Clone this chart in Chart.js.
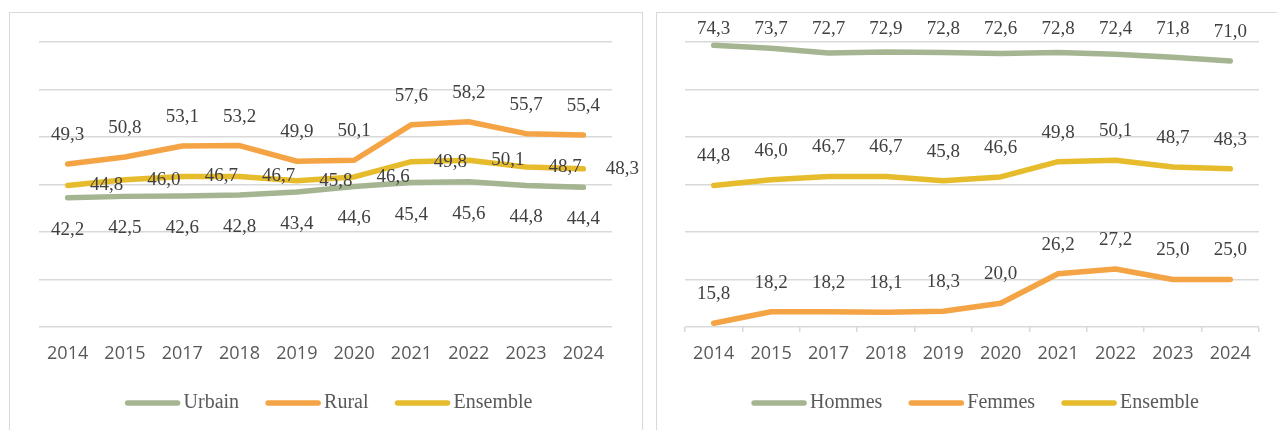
<!DOCTYPE html>
<html>
<head>
<meta charset="utf-8">
<script src="https://cdn.jsdelivr.net/npm/chart.js@4"></script>
<style>
  body { margin: 0; width: 1277px; height: 430px; overflow: hidden; background: #fff; position: relative; }
  .frame { position: absolute; top: 12px; height: 440px; border: 1px solid #d9d9d9; box-sizing: border-box; }
  .box { position: absolute; top: 13px; width: 631px; height: 417px; }
</style>
</head>
<body>
<div class="frame" style="left:9px; width:634px;"></div>
<div class="frame" style="left:656px; width:640px;"></div>
<div class="box" style="left:10px;"><canvas id="chartZone"></canvas></div>
<div class="box" style="left:657px;"><canvas id="chartSexe"></canvas></div>
<script>
const years = ['2014', '2015', '2017', '2018', '2019', '2020', '2021', '2022', '2023', '2024'];
const urbain = [42.2, 42.5, 42.6, 42.8, 43.4, 44.6, 45.4, 45.6, 44.8, 44.4];
const rural = [49.3, 50.8, 53.1, 53.2, 49.9, 50.1, 57.6, 58.2, 55.7, 55.4];
const ensemble = [44.8, 46.0, 46.7, 46.7, 45.8, 46.6, 49.8, 50.1, 48.7, 48.3];
const hommes = [74.3, 73.7, 72.7, 72.9, 72.8, 72.6, 72.8, 72.4, 71.8, 71.0];
const femmes = [15.8, 18.2, 18.2, 18.1, 18.3, 20.0, 26.2, 27.2, 25.0, 25.0];

const GREEN = '#a5b592';
const ORANGE = '#f4a445';
const YELLOW = '#e6bc2d';

const fmt = v => v.toFixed(1).replace('.', ',');

// value labels drawn at the points computed by the chart
const valueLabels = {
    id: 'valueLabels',
    afterDatasetsDraw(chart) {
        const ctx = chart.ctx;
        ctx.save();
        ctx.font = '19px "Liberation Serif"';
        ctx.fillStyle = '#404040';
        ctx.textAlign = 'center';
        ctx.textBaseline = 'middle';
        chart.data.datasets.forEach((ds, i) => {
            chart.getDatasetMeta(i).data.forEach((pt, j) => {
                let x = pt.x, y = pt.y;
                if (ds.labelPos === 'below') y += 32;
                else if (ds.labelPos === 'right') x += 39;
                else y = Math.max(y - 29, 16);
                ctx.fillText(fmt(ds.data[j]), x, y);
            });
        });
        ctx.restore();
    }
};

// legend with long line swatches
const lineLegend = {
    id: 'lineLegend',
    afterDraw(chart) {
        const ctx = chart.ctx;
        const sw = 56, gapText = 3, gapItem = 26, y = 390;
        ctx.save();
        ctx.font = '20px "Liberation Serif"';
        const items = chart.data.datasets.map(ds => ({ text: ds.label, color: ds.borderColor, w: ctx.measureText(ds.label).width }));
        let total = items.reduce((s, it) => s + sw + gapText + it.w, 0) + gapItem * (items.length - 1);
        let x = (chart.chartArea.left + chart.chartArea.right) / 2 + 3 - total / 2;
        items.forEach(it => {
            ctx.strokeStyle = it.color;
            ctx.lineWidth = 5.5;
            ctx.lineCap = 'round';
            ctx.beginPath();
            ctx.moveTo(x + 3, y);
            ctx.lineTo(x + sw - 3, y);
            ctx.stroke();
            ctx.fillStyle = '#595959';
            ctx.textAlign = 'left';
            ctx.textBaseline = 'middle';
            ctx.fillText(it.text, x + sw + gapText, y);
            x += sw + gapText + it.w + gapItem;
        });
        ctx.restore();
    }
};

function lineSet(label, data, color, labelPos) {
    return {
        label: label,
        data: data,
        borderColor: color,
        backgroundColor: color,
        borderWidth: 5.5,
        borderCapStyle: 'round',
        borderJoinStyle: 'round',
        pointRadius: 0,
        tension: 0,
        labelPos: labelPos
    };
}

function makeOptions(padLeft, withTicks) {
    return {
        responsive: true,
        maintainAspectRatio: false,
        animation: false,
        layout: { padding: { left: padLeft, right: 29, top: 29, bottom: 0 } },
        plugins: { legend: { display: false }, tooltip: { enabled: false } },
        scales: {
            x: {
                offset: true,
                grid: { display: withTicks, drawOnChartArea: false, drawTicks: withTicks, tickLength: 5, offset: true, color: '#d9d9d9', lineWidth: 1.5 },
                border: { display: false },
                ticks: { color: '#595959', font: { family: 'Open Sans', size: 18 }, padding: withTicks ? 11 : 16, maxRotation: 0, autoSkip: false },
                afterFit(s) { s.height = 103; }
            },
            y: {
                min: 15,
                max: 75,
                ticks: { display: false, stepSize: 10 },
                grid: { color: '#d9d9d9', lineWidth: 1.5, drawTicks: false },
                border: { display: false }
            }
        }
    };
}

new Chart(document.getElementById('chartZone'), {
    type: 'line',
    data: {
        labels: years,
        datasets: [
            lineSet('Urbain', urbain, GREEN, 'below'),
            lineSet('Rural', rural, ORANGE, 'above'),
            lineSet('Ensemble', ensemble, YELLOW, 'right')
        ]
    },
    options: makeOptions(29, false),
    plugins: [valueLabels, lineLegend]
});

new Chart(document.getElementById('chartSexe'), {
    type: 'line',
    data: {
        labels: years,
        datasets: [
            lineSet('Hommes', hommes, GREEN, 'above'),
            lineSet('Femmes', femmes, ORANGE, 'above'),
            lineSet('Ensemble', ensemble, YELLOW, 'above')
        ]
    },
    options: makeOptions(28, true),
    plugins: [valueLabels, lineLegend]
});
</script>
</body>
</html>
